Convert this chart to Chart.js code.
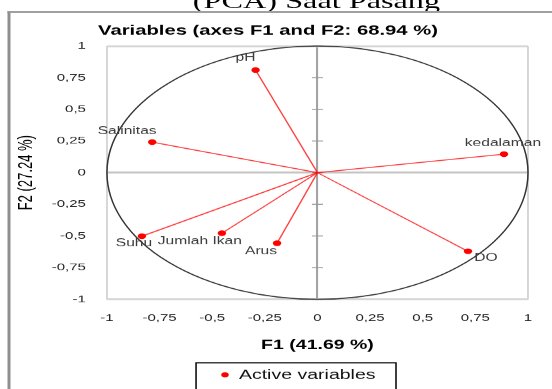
<!DOCTYPE html>
<html>
<head>
<meta charset="utf-8">
<script src="https://cdn.jsdelivr.net/npm/chart.js@4.4.1/dist/chart.umd.min.js"></script>
<style>
    html, body { margin: 0; padding: 0; background: #fff; overflow: hidden; }
    #page { position: relative; width: 552px; height: 389px; overflow: hidden; }
    /* the source picture is stretched sideways, so everything is drawn narrow then widened */
    #wide { position: absolute; left: 0; top: 0; width: 368px; height: 389px; transform: scaleX(1.5); transform-origin: 0 0; }
    #doc-title { position: absolute; left: 0; width: 422px; top: -9px; text-align: center;
        font: 21.5px/1 'Liberation Serif', 'Times New Roman', serif; color: #000; white-space: nowrap; }
    #frame { position: absolute; left: 4.7px; top: 11px; width: 400px; height: 400px;
        border-left: 2px solid #8f8f8f; border-top: 2px solid #a0a0a0; }
    #chart { position: absolute; left: 0; top: 0; }
</style>
</head>
<body>
<div id="page">
    <div id="wide">
        <div id="doc-title">(PCA) Saat Pasang</div>
        <div id="frame"></div>
        <canvas id="chart" width="368" height="389"></canvas>
    </div>
</div>
<script>
// --- Data ---
const variables = ['pH', 'Salinitas', 'kedalaman', 'DO', 'Suhu', 'Jumlah Ikan', 'Arus'];
const f1Values = [-0.294, -0.785, 0.886, 0.715, -0.834, -0.454, -0.192];
const f2Values = [0.810, 0.241, 0.146, -0.621, -0.502, -0.478, -0.557];
const tickLabels = ['-1', '-0,75', '-0,5', '-0,25', '0', '0,25', '0,5', '0,75', '1'];

const seriesName = 'Active variables';
const chartTitle = 'Variables (axes F1 and F2: 68.94 %)';
const xTitle = 'F1 (41.69 %)';
const yTitle = 'F2 (27.24 %)';

// label nudges (px, before the sideways stretch)
const labelOffsets = [[-6.7, -12], [-16.7, -11], [-0.7, -11], [12, 7], [-5.3, 7], [-14.7, 8], [-10.7, 8]];

const RED = '#ff0000';
const FONT = "'Liberation Sans', Arial, sans-serif";

// --- Plugins ---
const circlePlugin = {
    id: 'circle',
    beforeDatasetsDraw(chart) {
        const { ctx, scales: { x, y } } = chart;
        const cx = x.getPixelForValue(0), cy = y.getPixelForValue(0);
        const rx = x.getPixelForValue(1) - cx, ry = cy - y.getPixelForValue(1);
        ctx.save();
        // tick marks on the vertical zero axis
        ctx.strokeStyle = '#9a9a9a';
        ctx.lineWidth = 1;
        y.ticks.forEach(t => {
            const py = y.getPixelForValue(t.value);
            ctx.beginPath();
            ctx.moveTo(cx - 3.7, py);
            ctx.lineTo(cx + 3.7, py);
            ctx.stroke();
        });
        ctx.strokeStyle = '#333';
        ctx.lineWidth = 1;
        ctx.beginPath();
        ctx.ellipse(cx, cy, rx, ry, 0, 0, Math.PI * 2);
        ctx.stroke();
        ctx.restore();
    }
};

const labelPlugin = {
    id: 'varLabels',
    afterDatasetsDraw(chart) {
        const { ctx, scales: { x, y } } = chart;
        ctx.save();
        ctx.font = `10.4px ${FONT}`;
        ctx.fillStyle = '#3c3c3c';
        ctx.textAlign = 'center';
        ctx.textBaseline = 'middle';
        variables.forEach((name, i) => {
            const px = x.getPixelForValue(f1Values[i]) + labelOffsets[i][0];
            const py = y.getPixelForValue(f2Values[i]) + labelOffsets[i][1];
            ctx.fillText(name, px, py);
        });
        ctx.restore();
    }
};

const legendPlugin = {
    id: 'legendBox',
    afterDraw(chart) {
        const { ctx } = chart;
        ctx.save();
        ctx.strokeStyle = '#000';
        ctx.lineWidth = 1;
        ctx.strokeRect(130.7, 362.5, 133.3, 40);
        ctx.fillStyle = RED;
        ctx.beginPath();
        ctx.arc(150, 374.5, 2.5, 0, Math.PI * 2);
        ctx.fill();
        ctx.fillStyle = '#111';
        ctx.font = `13px ${FONT}`;
        ctx.textAlign = 'left';
        ctx.textBaseline = 'middle';
        ctx.fillText(chart.data.datasets[chart.data.datasets.length - 1].label, 159.3, 375);
        ctx.restore();
    }
};

// --- Datasets ---
const lineSets = variables.map((name, i) => ({
    label: name,
    data: [{ x: 0, y: 0 }, { x: f1Values[i], y: f2Values[i] }],
    showLine: true,
    borderColor: 'rgba(255, 0, 0, 0.75)',
    borderWidth: 1,
    pointRadius: 0
}));

const pointSet = {
    label: seriesName,
    data: variables.map((name, i) => ({ x: f1Values[i], y: f2Values[i] })),
    backgroundColor: RED,
    borderColor: RED,
    pointRadius: 2.8,
    borderWidth: 0
};

function gridColor(ctx, zeroColor) {
    const v = ctx.tick.value;
    if (v === 0) return zeroColor;
    if (Math.abs(v) === 1) return '#d6d6d6';
    return 'rgba(0,0,0,0)';
}

new Chart(document.getElementById('chart'), {
    type: 'scatter',
    data: { datasets: [...lineSets, pointSet] },
    options: {
        responsive: false,
        animation: false,
        devicePixelRatio: 1.5,
        layout: { padding: { left: 5.3, right: 16, top: 0, bottom: 0 } },
        plugins: {
            legend: { display: false },
            tooltip: { enabled: false },
            title: {
                display: true,
                text: chartTitle,
                color: '#000',
                font: { family: FONT, size: 13.5, weight: 'bold' },
                padding: { top: 23, bottom: 6.8 }
            }
        },
        scales: {
            x: {
                min: -1, max: 1,
                afterFit: s => { s.height = 90; },
                border: { display: false },
                grid: {
                    drawTicks: false,
                    color: c => gridColor(c, '#a3a3a3'),
                    lineWidth: c => (c.tick.value === 0 ? 1.4 : 1.3)
                },
                ticks: {
                    stepSize: 0.25, padding: 13, maxRotation: 0, autoSkip: false,
                    color: '#222', font: { family: FONT, size: 10 },
                    callback: (v, i) => tickLabels[i]
                },
                title: {
                    display: true, text: xTitle, color: '#000',
                    font: { family: FONT, size: 13, weight: 'bold' },
                    padding: { top: 0, bottom: 36.2 }
                }
            },
            y: {
                min: -1, max: 1,
                afterFit: s => { s.width = 66; },
                border: { display: false },
                grid: {
                    drawTicks: false,
                    color: c => gridColor(c, '#c4c4c4'),
                    lineWidth: 2
                },
                ticks: {
                    stepSize: 0.25, padding: 14, autoSkip: false,
                    color: '#222', font: { family: FONT, size: 10 },
                    callback: (v, i) => tickLabels[i]
                },
                title: {
                    display: true, text: yTitle, color: '#000',
                    font: { family: FONT, size: 13 },
                    padding: { top: 4.9, bottom: 0 }
                }
            }
        }
    },
    plugins: [circlePlugin, labelPlugin, legendPlugin]
});
</script>
</body>
</html>
